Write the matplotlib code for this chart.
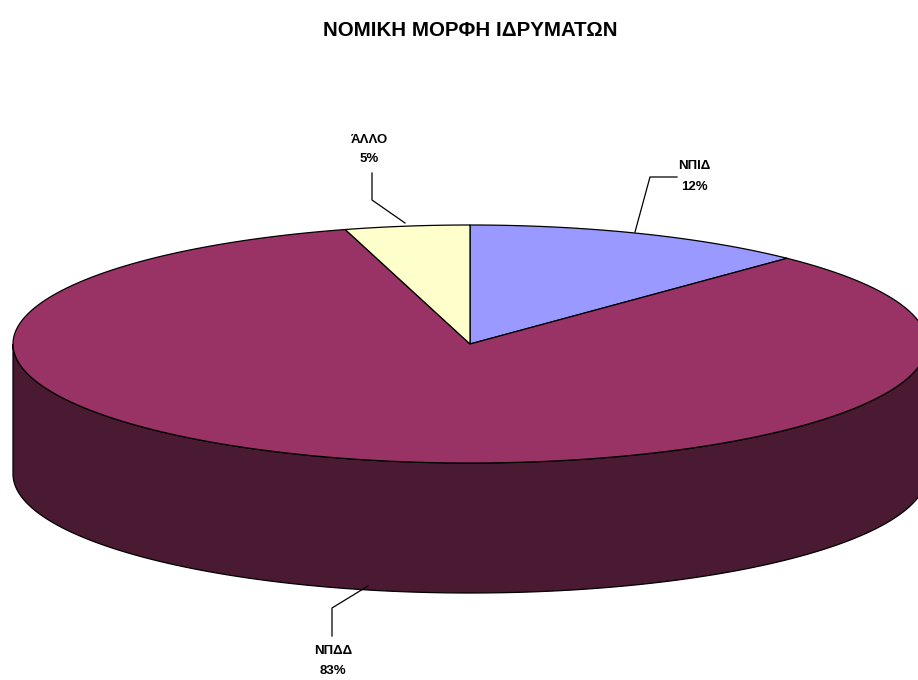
import numpy as np
import matplotlib
matplotlib.use("Agg")
import matplotlib.pyplot as plt
from matplotlib.patches import Polygon

# Data
categories = ["ΝΠΙΔ", "ΝΠΔΔ", "ΆΛΛΟ"]
values = [12.2, 83.4, 4.4]
pct_labels = ["12%", "83%", "5%"]
top_colors = ["#9999FF", "#993366", "#FFFFCC"]
side_colors = ["#4C4C80", "#4A1A32", "#808066"]
title = "ΝΟΜΙΚΗ ΜΟΡΦΗ ΙΔΡΥΜΑΤΩΝ"

W, H = 918, 680
fig = plt.figure(figsize=(W / 100, H / 100), dpi=100)
ax = fig.add_axes([0, 0, 1, 1])
ax.set_xlim(0, W)
ax.set_ylim(H, 0)
ax.axis("off")

cx, cy = 470, 344
a, b = 457, 119
depth = 130

def pt(theta_deg, dy=0.0):
    t = np.radians(theta_deg)
    return cx + a * np.cos(t), cy - b * np.sin(t) + dy

total = sum(values)
# Excel: start at 12 o'clock, clockwise
start = 90.0
wedges = []
for v in values:
    sweep = 360.0 * v / total
    wedges.append((start - sweep, start))
    start -= sweep

# side walls (front half: angles 180..360)
for (t1, t2), sc in zip(wedges, side_colors):
    for shift in (-360, 0, 360):
        lo, hi = max(t1 + shift, 180), min(t2 + shift, 360)
        if hi > lo:
            ts = np.linspace(lo, hi, 200)
            upper = [pt(t) for t in ts]
            lower = [pt(t, depth) for t in ts[::-1]]
            ax.add_patch(Polygon(upper + lower, closed=True, facecolor=sc,
                                 edgecolor="black", linewidth=0.9, zorder=1))

# top faces
for (t1, t2), tc in zip(wedges, top_colors):
    ts = np.linspace(t1, t2, 300)
    poly = [(cx, cy)] + [pt(t) for t in ts]
    ax.add_patch(Polygon(poly, closed=True, facecolor=tc,
                         edgecolor="black", linewidth=0.9, zorder=2))

fnt = dict(family=["Liberation Sans", "DejaVu Sans"], fontweight="bold")
ax.text(470, 30, title, ha="center", va="center", fontsize=14.8, **fnt)

# leader lines and labels
lw = 0.9
fs = 9.5
# ΝΠΙΔ
ax.plot([635, 650, 677], [232, 177, 177], color="black", lw=lw, zorder=3)
ax.text(694, 166, categories[0], ha="center", va="center", fontsize=fs, **fnt)
ax.text(694, 187, pct_labels[0], ha="center", va="center", fontsize=fs, **fnt)
# ΆΛΛΟ
ax.plot([405, 372, 372], [223, 200, 173], color="black", lw=lw, zorder=3)
ax.text(369, 140, categories[2], ha="center", va="center", fontsize=fs, **fnt)
ax.text(369, 159, pct_labels[2], ha="center", va="center", fontsize=fs, **fnt)
# ΝΠΔΔ
ax.plot([368, 332, 332], [586, 608, 636], color="black", lw=lw, zorder=3)
ax.text(333, 651, categories[1], ha="center", va="center", fontsize=fs, **fnt)
ax.text(333, 671, pct_labels[1], ha="center", va="center", fontsize=fs, **fnt)

fig.savefig("out.png", dpi=100)
